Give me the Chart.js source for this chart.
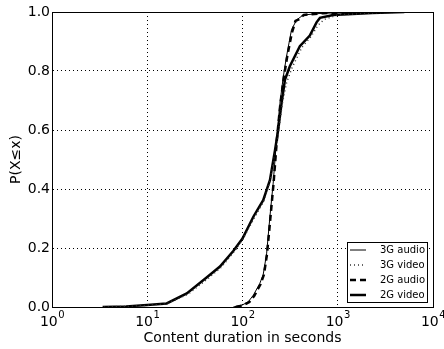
<!DOCTYPE html>
<html>
<head>
<meta charset="utf-8">
<script src="https://cdn.jsdelivr.net/npm/chart.js@4/dist/chart.umd.min.js"></script>
<style>
  html, body { margin: 0; padding: 0; background: #fff; }
  #wrap { width: 444px; height: 349px; }
</style>
</head>
<body>
<div id="wrap"><canvas id="cdfChart" width="444" height="349"></canvas></div>
<script>
// values (duration in seconds -> P(X<=x))
const audio3gX = [80, 100, 115, 130, 152, 165, 179, 194, 210, 228, 247, 268, 290, 327, 370, 434, 650, 1500];
const audio3gY = [0, 0.007, 0.018, 0.04, 0.08, 0.11, 0.18, 0.306, 0.42, 0.57, 0.69, 0.78, 0.85, 0.94, 0.973, 0.99, 0.995, 1.0];

const video3gX = [3.5, 7, 10, 16, 27, 44, 60, 82, 100, 132, 168, 196, 222, 240, 262, 290, 330, 420, 520, 620, 720, 1000, 2500, 5000];
const video3gY = [0, 0.003, 0.006, 0.011, 0.044, 0.098, 0.135, 0.188, 0.228, 0.30, 0.36, 0.43, 0.53, 0.60, 0.69, 0.76, 0.81, 0.88, 0.915, 0.955, 0.975, 0.99, 0.997, 1.0];

const audio2gX = [85, 102, 118, 133, 155, 168, 181, 196, 212, 230, 250, 272, 295, 330, 360, 390, 440, 700, 2000];
const audio2gY = [0, 0.006, 0.017, 0.038, 0.078, 0.11, 0.18, 0.30, 0.42, 0.57, 0.69, 0.78, 0.85, 0.93, 0.97, 0.975, 0.99, 0.996, 1.0];

const video2gX = [3.4, 6, 10, 16, 26, 42, 58, 80, 100, 130, 165, 194, 219, 237, 257, 279, 314, 400, 509, 599, 650, 895, 2300, 5000];
const video2gY = [0, 0.002, 0.007, 0.012, 0.046, 0.10, 0.137, 0.19, 0.232, 0.306, 0.362, 0.43, 0.53, 0.60, 0.69, 0.77, 0.816, 0.884, 0.92, 0.965, 0.98, 0.99, 0.997, 1.0];

const seriesNames = ['3G audio', '3G video', '2G audio', '2G video'];
const xTicks = [1, 10, 100, 1000, 10000];
const xTickExp = ['0', '1', '2', '3', '4'];

const FONT = 'DejaVu Sans';

function pairs(xs, ys) {
    return xs.map((x, i) => ({ x: x, y: ys[i] }));
}

// frame, 10^n tick labels and the legend box
const framePlugin = {
    id: 'frame',
    afterDraw(chart) {
        const ctx = chart.ctx;
        const a = chart.chartArea;
        const xs = chart.scales.x;
        ctx.save();
        ctx.strokeStyle = '#000';
        ctx.lineWidth = 1;
        ctx.strokeRect(Math.round(a.left) + 0.5, Math.round(a.top) + 0.5,
            Math.round(a.right - a.left), Math.round(a.bottom - a.top));

        // x tick labels with raised exponent
        ctx.fillStyle = '#000';
        ctx.textBaseline = 'alphabetic';
        xTicks.forEach((v, i) => {
            const px = xs.getPixelForValue(v);
            ctx.font = '14px ' + FONT;
            const wBase = ctx.measureText('10').width;
            ctx.font = '10px ' + FONT;
            const wExp = ctx.measureText(xTickExp[i]).width;
            const left = px - (wBase + wExp) / 2;
            ctx.font = '14px ' + FONT;
            ctx.fillText('10', left, a.bottom + 19);
            ctx.font = '10px ' + FONT;
            ctx.fillText(xTickExp[i], left + wBase + 0.5, a.bottom + 11);
        });

        // legend
        const bx = a.right - 86, by = a.bottom - 65, bw = 80, bh = 60;
        ctx.fillStyle = '#fff';
        ctx.fillRect(bx, by, bw, bh);
        ctx.lineWidth = 1;
        ctx.strokeRect(bx + 0.5, by + 0.5, bw, bh);
        ctx.font = '10px ' + FONT;
        ctx.textBaseline = 'middle';
        chart.data.datasets.forEach((ds, i) => {
            const yy = by + 8 + i * 15;
            ctx.strokeStyle = ds.borderColor;
            ctx.lineWidth = ds.borderWidth;
            ctx.setLineDash(ds.borderDash || []);
            ctx.beginPath();
            ctx.moveTo(bx + 3, yy);
            ctx.lineTo(bx + 19, yy);
            ctx.stroke();
            ctx.setLineDash([]);
            ctx.fillStyle = '#000';
            ctx.fillText(ds.label, bx + 33, yy);
        });
        ctx.restore();
    }
};

new Chart(document.getElementById('cdfChart').getContext('2d'), {
    type: 'line',
    data: {
        datasets: [{
            label: seriesNames[0],
            data: pairs(audio3gX, audio3gY),
            borderColor: '#000',
            borderWidth: 1,
            pointRadius: 0,
            tension: 0
        }, {
            label: seriesNames[1],
            data: pairs(video3gX, video3gY),
            borderColor: '#333',
            borderWidth: 1.5,
            borderDash: [1, 3],
            pointRadius: 0,
            tension: 0
        }, {
            label: seriesNames[2],
            data: pairs(audio2gX, audio2gY),
            borderColor: '#000',
            borderWidth: 2.5,
            borderDash: [6, 4],
            pointRadius: 0,
            tension: 0
        }, {
            label: seriesNames[3],
            data: pairs(video2gX, video2gY),
            borderColor: '#000',
            borderWidth: 2.5,
            pointRadius: 0,
            tension: 0
        }]
    },
    options: {
        responsive: false,
        animation: false,
        layout: { padding: { top: 12, right: 11, left: 0, bottom: 0 } },
        plugins: {
            legend: { display: false },
            tooltip: { enabled: false }
        },
        scales: {
            x: {
                type: 'logarithmic',
                min: 1,
                max: 10000,
                afterBuildTicks: (scale) => {
                    scale.ticks = xTicks.map(v => ({ value: v }));
                },
                afterFit: (scale) => { scale.height = 42; },
                ticks: { display: false, autoSkip: false },
                grid: { color: '#000', lineWidth: 1, drawTicks: false, borderDash: [1, 3] },
                border: { color: '#000', dash: [1, 3] },
                title: {
                    display: true,
                    text: 'Content duration in seconds',
                    color: '#000',
                    font: { family: FONT, size: 14 },
                    padding: { top: 0, bottom: 2 }
                }
            },
            y: {
                min: 0,
                max: 1,
                afterFit: (scale) => { scale.width = 52; },
                ticks: {
                    stepSize: 0.2,
                    padding: 2,
                    color: '#000',
                    font: { family: FONT, size: 14 },
                    callback: (v) => v.toFixed(1)
                },
                grid: { color: '#000', lineWidth: 1, drawTicks: false, borderDash: [1, 3] },
                border: { color: '#000', dash: [1, 3] },
                title: {
                    display: true,
                    text: 'P(X≤x)',
                    color: '#000',
                    font: { family: FONT, size: 14 },
                    padding: { top: 8, bottom: 0 }
                }
            }
        }
    },
    plugins: [framePlugin]
});
</script>
</body>
</html>
